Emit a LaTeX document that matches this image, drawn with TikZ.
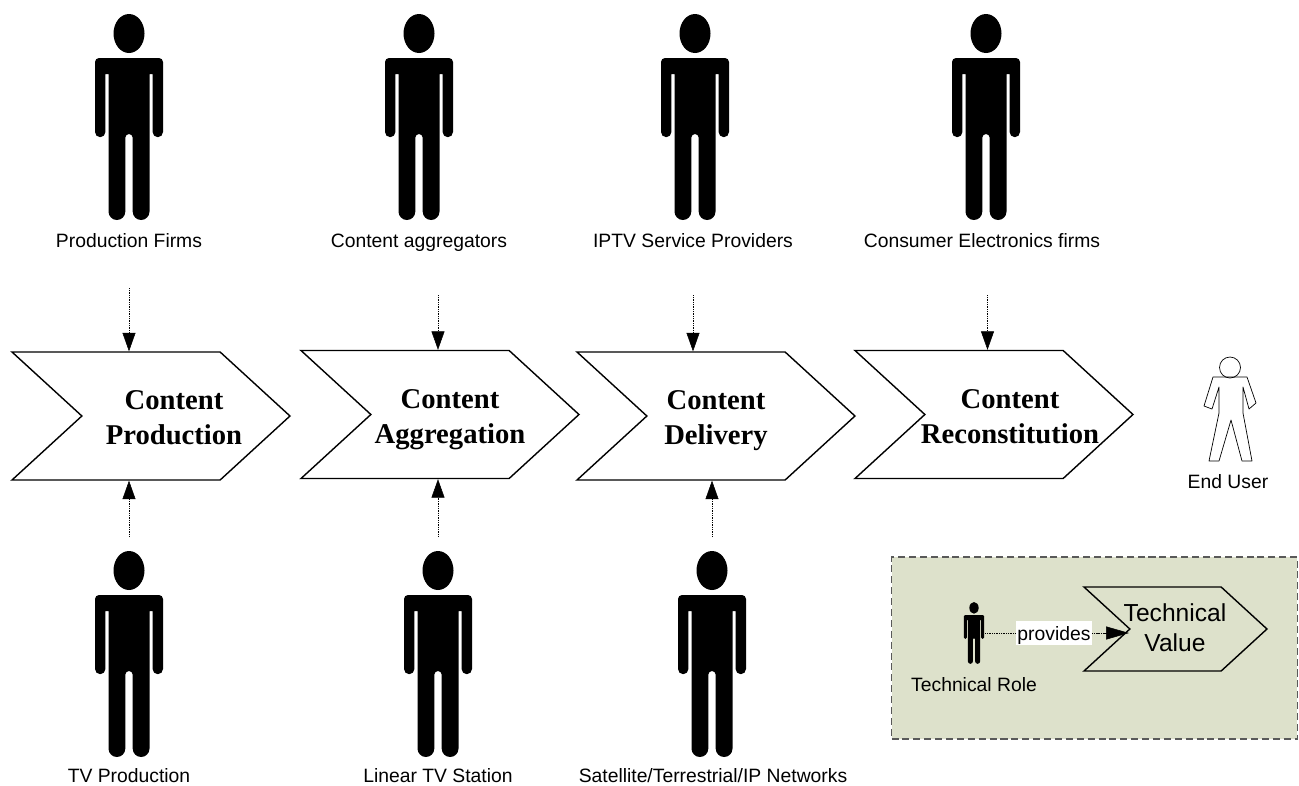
\documentclass[tikz,border=0pt]{standalone}
\usepackage{fontspec}
\setmainfont{Liberation Sans}
\newfontfamily\serifbold{Liberation Serif}
\usetikzlibrary{arrows.meta,shapes.symbols}

\definecolor{legendgreen}{HTML}{DDE1CB}

\tikzset{
  person/.pic={
    \fill (0,19.5) ellipse [x radius=15.5,y radius=19.5];
    \fill (-34,48) arc[start angle=180,end angle=270,radius=4] -- (30,44)
      arc[start angle=270,end angle=360,radius=4] -- (34,118)
      arc[start angle=0,end angle=180,radius=5.2] -- (23.6,60) -- (20.5,60) -- (20.5,197.6)
      arc[start angle=0,end angle=180,radius=8.4] -- (3.7,123.7)
      arc[start angle=0,end angle=-180,radius=3.7] -- (-3.7,197.6)
      arc[start angle=0,end angle=180,radius=8.4] -- (-20.5,60) -- (-23.6,60) -- (-23.6,118)
      arc[start angle=0,end angle=180,radius=5.2] -- cycle;
  }
}

\begin{document}
\begin{tikzpicture}[x=0.02cm,y=-0.02cm,>={Triangle[length=10.5pt,width=7.4pt]},semithick]
  \tikzstyle{every node}=[inner sep=0pt]
  \tikzstyle{tag}=[font=\fontsize{11}{13}\selectfont,text height=8.2pt,text depth=0pt]
  \tikzstyle{chevron}=[draw=black,thick,signal,signal to=east,signal from=west,signal pointer angle=85,
    minimum width=5.56cm,minimum height=2.56cm]
  \tikzstyle{stage}=[align=center,font=\serifbold\bfseries\fontsize{16.3}{19.6}\selectfont]
  \tikzstyle{flow}=[->,draw=black,line width=.3pt,dash pattern=on .6pt off .4pt]

  \useasboundingbox (0,0) rectangle (1299,785);

  % legend goes first, it sits behind
  \node[draw=black!65,fill=legendgreen,thick,dash pattern=on 4pt off 2.2pt,minimum width=8.12cm,minimum height=3.64cm] (L) at (1094.5,648) {};

  \pic (P1) at (129,14) {person};
  \pic (P2) at (419,14) {person};
  \pic (P3) at (695,14) {person};
  \pic (P4) at (986,14) {person};
  \pic (P5) at (129,551) {person};
  \pic (P6) at (438,551) {person};
  \pic (P7) at (712,551) {person};

  \node[tag] (Pf) at (129,240) {Production Firms};
  \node[tag] (Ca) at (419,240) {Content aggregators};
  \node[tag] (Ip) at (693,240) {IPTV Service Providers};
  \node[tag] (Ce) at (982,240) {Consumer Electronics firms};
  \node[tag] (Tv) at (129,775) {TV Production};
  \node[tag] (Li) at (438,775) {Linear TV Station};
  \node[tag] (Sa) at (713,775) {Satellite/Terrestrial/IP Networks};

  \node[chevron] (C1) at (151,416) {};
  \node[chevron] (C2) at (440,414.5) {};
  \node[chevron] (C3) at (716,416) {};
  \node[chevron] (C4) at (994,414.5) {};
  \node[stage] (S1) at (174,417.5) {Content\\Production};
  \node[stage] (S2) at (450,419.5) {Content\\Aggregation};
  \node[stage] (S3) at (716,420.5) {Content\\Delivery};
  \node[stage] (S4) at (1010,416.5) {Content\\Reconstitution};

  \coordinate (T1) at (129,288);
  \coordinate (T2) at (438,295);
  \coordinate (T3) at (693,295);
  \coordinate (T4) at (987.5,295);
  \coordinate (B1) at (129,537);
  \coordinate (B2) at (438,537);
  \coordinate (B3) at (712,537);

  \path (T1) edge[flow] (T1 |- C1.north)
	(T2) edge[flow] (T2 |- C2.north)
	(T3) edge[flow] (T3 |- C3.north)
	(T4) edge[flow] (T4 |- C4.north)
	(B1) edge[flow] (B1 |- C1.south)
	(B2) edge[flow] (B2 |- C2.south)
	(B3) edge[flow] (B3 |- C3.south);

  % end user
  \node[draw=black,thin,circle,minimum size=.42cm] (Uh) at (1230,367.5) {};
  \draw[thin,line join=round] (1213,377) -- (1247,377) -- (1256,403) -- (1249,409) -- (1243,387) -- (1243,413)
    -- (1252,461) -- (1242,461) -- (1231,420) -- (1219,461) -- (1209,461) -- (1219,413) -- (1219,387)
    -- (1212,409) -- (1204,406) -- cycle;
  \node[tag] (U) at (1228,481) {End User};

  % legend contents
  \pic[scale=.3] (Pr) at (974,602) {person};
  \node[tag] (Tr) at (974,684) {Technical Role};
  \node[draw=black,thick,signal,signal to=east,signal from=west,signal pointer angle=85,
    minimum width=3.66cm,minimum height=1.68cm] (Cv) at (1175.5,629) {};
  \node[align=center,font=\fontsize{14}{17}\selectfont] (Tv2) at (1175,628) {Technical\\Value};
  \coordinate (R) at (985,633);
  \coordinate (Q) at (1129,633);
  \path (R) edge[flow,>={Triangle[length=13pt,width=7.4pt]}]
    node[tag,fill=white,inner xsep=.6pt,inner ysep=2.6pt,pos=.479] (Pv) {provides} (Q);
\end{tikzpicture}
\end{document}
